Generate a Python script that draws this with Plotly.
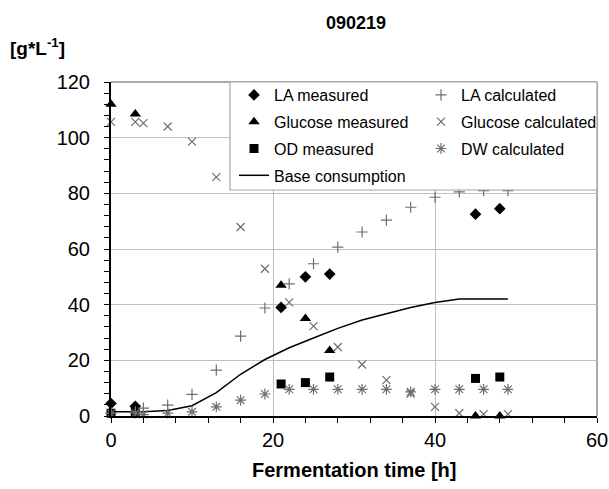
import plotly.graph_objects as go

# ---- data ----
t_meas = [0, 3, 21, 24, 27, 45, 48]
la_meas = [4.5, 3.5, 39, 50, 51, 72.5, 74.5]
glc_meas = [112, 108.5, 47, 35, 23.5, 0, 0]
od_meas = [1, 1.5, 11.5, 12, 14, 13.5, 14]

t_calc = [0, 3, 4, 7, 10, 13, 16, 19, 22, 25, 28, 31, 34, 37, 40, 43, 46, 49]
la_calc = [1, 1.5, 2.8, 3.9, 7.8, 16.5, 28.7, 38.8, 47.5, 54.7, 60.7, 66.1, 70.4, 75, 78.6, 80.5, 81, 81]
glc_calc = [105.7, 105.7, 105.2, 104, 98.6, 85.8, 67.9, 52.9, 40.8, 32.3, 24.8, 18.5, 12.9, 8.1, 3.3, 1, 0.7, 0.7]
dw_calc = [1, 1, 0.5, 1, 1.5, 3.3, 5.7, 7.9, 9.6, 9.6, 9.6, 9.6, 9.6, 8.7, 9.6, 9.6, 9.6, 9.6]
base_cons = [1.5, 1.5, 1.5, 2, 3.7, 8.4, 15, 20.3, 24.5, 28, 31.5, 34.5, 36.8, 39, 40.8, 42, 42, 42]

title_text = "090219"
x_title = "Fermentation time [h]"
y_title = "[g*L<sup>-1</sup>]"

FONT = "Liberation Sans, Arial, sans-serif"
GRAY = "#6e6e6e"

fig = go.Figure()

def add(name, x, y, legend, **kw):
    fig.add_trace(go.Scatter(x=x, y=y, name=name, legend=legend, legendgroup=name,
                             cliponaxis=False, **kw))

add("LA measured", t_meas, la_meas, "legend", mode="markers",
    marker=dict(symbol="diamond", size=9, color="black"))
add("Glucose measured", t_meas, glc_meas, "legend", mode="markers",
    marker=dict(symbol="triangle-up", size=10, color="black"))
add("OD measured", t_meas, od_meas, "legend", mode="markers",
    marker=dict(symbol="square", size=9, color="black"))
add("Base consumption", t_calc, base_cons, "legend", mode="lines",
    line=dict(color="black", width=1.5))
add("LA calculated", t_calc, la_calc, "legend2", mode="markers",
    marker=dict(symbol="cross-thin-open", size=8, color=GRAY, line=dict(color=GRAY, width=1.2)))
add("Glucose calculated", t_calc, glc_calc, "legend2", mode="markers",
    marker=dict(symbol="x-thin-open", size=8, color=GRAY, line=dict(color=GRAY, width=1.2)))
add("DW calculated", t_calc, dw_calc, "legend2", mode="markers",
    marker=dict(symbol="asterisk-open", size=9, color=GRAY, line=dict(color=GRAY, width=1.2)))

W, H = 609, 489
L, R, T, B = 111, 12, 82, 73
pw, ph = W - L - R, H - T - B

def px2x(p):
    return (p - L) / pw

def py2y(p):
    return (H - B - p) / ph

legend_common = dict(bgcolor="rgba(0,0,0,0)", borderwidth=0, orientation="v",
                     font=dict(family=FONT, size=16, color="black"),
                     tracegroupgap=3, xanchor="left", yanchor="top", itemclick=False)

fig.update_layout(
    template="none",
    width=W, height=H,
    margin=dict(l=L, r=R, t=T, b=B, autoexpand=False),
    paper_bgcolor="white", plot_bgcolor="white",
    font=dict(family=FONT, color="black"),
    showlegend=True,
    title=dict(text="<b>" + title_text + "</b>", x=px2x(356), xref="paper", xanchor="center",
               y=1 - 23 / H, yanchor="middle", font=dict(size=18, family=FONT)),
    legend=dict(x=px2x(234), y=py2y(78), **legend_common),
    legend2=dict(x=px2x(421), y=py2y(78), **legend_common),
    xaxis=dict(range=[0, 60], dtick=20, tick0=0, showgrid=True, gridcolor="#bfbfbf", gridwidth=1,
               zeroline=False, showline=True, linecolor="black", linewidth=2, automargin=False,
               ticks="outside", ticklen=5, tickcolor="black", tickwidth=1,
               tickfont=dict(size=20, family=FONT),
               minor=dict(dtick=4, ticks="outside", ticklen=5, tickcolor="black", showgrid=False)),
    yaxis=dict(range=[0, 120], dtick=20, tick0=0, showgrid=True, gridcolor="#bfbfbf", gridwidth=1,
               zeroline=False, showline=True, linecolor="black", linewidth=2, automargin=False,
               ticks="outside", ticklen=5, tickcolor="black", tickwidth=1,
               ticksuffix="\u2002",
               tickfont=dict(size=20, family=FONT),
               minor=dict(dtick=4, ticks="outside", ticklen=5, tickcolor="black", showgrid=False)),
    annotations=[
        dict(text="<b>" + x_title + "</b>", xref="paper", yref="paper", x=px2x(354), y=py2y(470),
             xanchor="center", yanchor="middle", showarrow=False, font=dict(size=20, family=FONT)),
        dict(text="<b>" + y_title + "</b>", xref="paper", yref="paper", x=px2x(8), y=py2y(47),
             xanchor="left", yanchor="middle", showarrow=False, font=dict(size=19, family=FONT)),
    ],
    shapes=[
        dict(type="line", xref="paper", yref="paper", x0=0, x1=1, y0=1, y1=1,
             line=dict(color="#8c8c8c", width=1.5), layer="below"),
        dict(type="line", xref="paper", yref="paper", x0=1, x1=1, y0=0, y1=1,
             line=dict(color="#8c8c8c", width=1.5), layer="below"),
        dict(type="rect", xref="paper", yref="paper", x0=px2x(230), x1=1, y0=py2y(190), y1=1,
             fillcolor="white", line=dict(color="#a6a6a6", width=1.2), layer="above"),
    ],
)

fig.write_html("out.html", config={"displayModeBar": False},
               post_script="document.body.style.margin='0px';")
